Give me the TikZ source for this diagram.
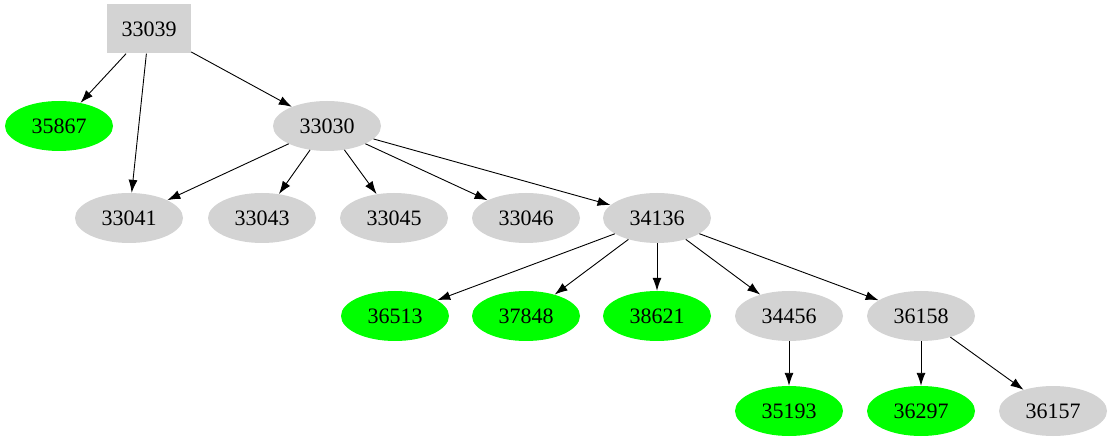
\documentclass[tikz,border=0pt]{standalone}
\usepackage{fontspec}
\setmainfont{Liberation Serif}
\usetikzlibrary{shapes.geometric}
\usetikzlibrary{arrows.meta}
\definecolor{nodegray}{RGB}{211,211,211}
\definecolor{leafgreen}{RGB}{0,255,0}
\tikzset{
    gnode/.style={ellipse, fill=nodegray, minimum width=108pt, minimum height=50pt, inner sep=0pt, font=\fontsize{22}{26}\selectfont},
    lnode/.style={gnode, fill=leafgreen},
    rnode/.style={rectangle, fill=nodegray, minimum width=84pt, minimum height=49pt, inner sep=0pt, font=\fontsize{22}{26}\selectfont},
    edge/.style={-{Latex[length=13pt,width=9pt]}, line width=0.9pt}
}
\begin{document}
\begin{tikzpicture}[x=1pt,y=-1pt]
    \useasboundingbox (0,0) rectangle (1113,443);
    % root and first level
    \node[rnode] (n33039) at (149,29) {33039};
    \node[lnode] (n35867) at (59,126) {35867};
    \node[gnode] (n33030) at (327,126) {33030};
    % second level
    \node[gnode] (n33041) at (129,218) {33041};
    \node[gnode] (n33043) at (262,218) {33043};
    \node[gnode] (n33045) at (394,218) {33045};
    \node[gnode] (n33046) at (526,218) {33046};
    \node[gnode] (n34136) at (657,218) {34136};
    % third level
    \node[lnode] (n36513) at (395,316) {36513};
    \node[lnode] (n37848) at (526,316) {37848};
    \node[lnode] (n38621) at (657,316) {38621};
    \node[gnode] (n34456) at (789,316) {34456};
    \node[gnode] (n36158) at (921,316) {36158};
    % fourth level
    \node[lnode] (n35193) at (789,411) {35193};
    \node[lnode] (n36297) at (921,411) {36297};
    \node[gnode] (n36157) at (1053,411) {36157};
    % edges
    \draw[edge] (n33039) -- (n35867);
    \draw[edge] (n33039) -- (n33041);
    \draw[edge] (n33039) -- (n33030);
    \foreach \t in {33041,33043,33045,33046,34136}
        \draw[edge] (n33030) -- (n\t);
    \foreach \t in {36513,37848,38621,34456,36158}
        \draw[edge] (n34136) -- (n\t);
    \draw[edge] (n34456) -- (n35193);
    \draw[edge] (n36158) -- (n36297);
    \draw[edge] (n36158) -- (n36157);
\end{tikzpicture}
\end{document}
